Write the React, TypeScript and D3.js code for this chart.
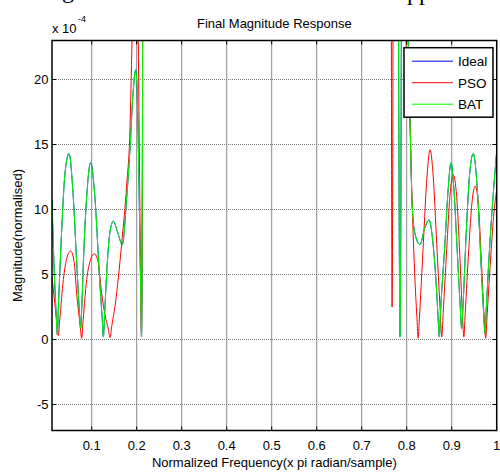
import React from 'react';
import * as d3 from 'd3';

// ---------- data (magnitude in units of 1e-4) ----------
const batFreq = [
  0.0118, 0.016, 0.021, 0.0236, 0.026, 0.0333, 0.0407, 0.0496, 0.059, 0.0667, 0.073, 0.0755,
  0.078, 0.0815, 0.0889, 0.0977, 0.107, 0.117, 0.1235, 0.126, 0.1285, 0.1333, 0.1407, 0.148,
  0.158, 0.168, 0.178, 0.185, 0.192, 0.198, 0.2025, 0.2065, 0.2095, 0.2108, 0.212, 0.2135,
  0.216, 0.22, 0.5, 0.77, 0.776, 0.7815, 0.7838, 0.785, 0.7865, 0.7885, 0.793, 0.8, 0.804,
  0.8073, 0.8118, 0.818, 0.8296, 0.8395, 0.8495, 0.859, 0.8667, 0.8705, 0.8725, 0.875, 0.885,
  0.892, 0.8985, 0.905, 0.912, 0.919, 0.922, 0.925, 0.932, 0.94, 0.948, 0.957, 0.965, 0.971,
  0.974, 0.977, 0.985, 0.993, 1.0,
];
const batMag = [
  10.7, 6, 2, 0.4, 2.5, 8.4, 12.8, 14.3, 11, 5.9, 2, 0.86,
  2.5, 5.9, 11, 13.6, 11, 5, 1.5, 0.2, 1.8, 5.1, 8.3, 9.1,
  8.2, 7.3, 11, 14.6, 19, 20.75, 17, 9, 2.5, 0.2, 6, 30,
  200, 10000, 10000, 10000, 200, 30, 6, 0.2, 6, 30, 150, 40, 22,
  17, 10.7, 8.2, 7.3, 8.5, 9.2, 7.2, 3.6, 1.2, 0.2, 2, 7.4,
  11.5, 13.6, 11.5, 7, 2.5, 0.86, 2.5, 8, 12.8, 14.3, 11.5, 6, 2,
  0.42, 2.5, 7.5, 11.5, 14.5,
];
// The ideal curve lies under the BAT curve
const idealFreq = batFreq;
const idealMag = batMag;

const psoFreq = [
  0.0118, 0.018, 0.023, 0.0258, 0.029, 0.037, 0.045, 0.0533, 0.061, 0.0667, 0.074, 0.0778,
  0.081, 0.0889, 0.097, 0.106, 0.114, 0.122, 0.13, 0.137, 0.141, 0.1445, 0.152, 0.1667, 0.178,
  0.185, 0.1896, 0.195, 0.2, 0.2035, 0.2065, 0.2092, 0.2105, 0.2118, 0.2135, 0.216, 0.22, 0.5,
  0.76, 0.7645, 0.7658, 0.7668, 0.7675, 0.7685, 0.7698, 0.773, 0.785, 0.7985, 0.8005, 0.807,
  0.8118, 0.815, 0.8185, 0.823, 0.8255, 0.828, 0.837, 0.845, 0.852, 0.859, 0.8667, 0.874,
  0.878, 0.881, 0.889, 0.896, 0.9036, 0.911, 0.918, 0.924, 0.927, 0.93, 0.938, 0.945, 0.952,
  0.959, 0.966, 0.972, 0.9756, 0.979, 0.987, 0.994, 1.0,
];
const psoMag = [
  4.8, 2.8, 1.2, 0.3, 1.5, 4.6, 6.3, 6.8, 6, 3.5, 1.2, 0.1,
  1.5, 4.6, 6.1, 6.6, 6, 3.6, 1.8, 0.8, 0.15, 1, 2.6, 7.4, 12,
  16.1, 23, 32, 32, 23, 12, 3, 0.3, 6, 35, 200, 10000, 10000,
  10000, 200, 30, 8, 2.5, 8, 30, 200, 400, 23, 21.8, 17.1,
  10.7, 7.5, 4.5, 1.5, 0.1, 1.5, 7.4, 12.5, 14.6, 12.5, 7.4, 2.5,
  0.2, 2, 7, 11, 12.65, 11, 6.5, 1.8, 0.2, 2, 7, 10.5, 11.8,
  10.5, 6, 1.8, 0.1, 2, 6.5, 9.8, 11.5,
];

const xTicks = [0.1, 0.2, 0.3, 0.4, 0.5, 0.6, 0.7, 0.8, 0.9, 1];
const xTickLabels = ['0.1', '0.2', '0.3', '0.4', '0.5', '0.6', '0.7', '0.8', '0.9', '1'];
const yTicks = [-5, 0, 5, 10, 15, 20];
const yTickLabels = ['-5', '0', '5', '10', '15', '20'];
const xDomain = [0.0118, 1];
const yDomain = [-7, 23];

const seriesNames = ['Ideal', 'PSO', 'BAT'];
const seriesColors = ['#0000ff', '#ff0000', '#00ff00'];

const titleText = 'Final Magnitude Response';
const xLabelText = 'Normalized Frequency(x pi radian/sample)';
const yLabelText = 'Magnitude(normalised)';

// ---------- layout ----------
const W = 500;
const H = 472;
const L = 52;
const R = 496.7;
const T = 40.5;
const B = 430.5;
const FONT = '"Liberation Sans", Arial, Helvetica, sans-serif';

export default function App() {
  const x = d3.scaleLinear().domain(xDomain).range([L, R]);
  const y = d3.scaleLinear().domain(yDomain).range([B, T]);

  const line = d3
    .line<[number, number]>()
    .x((d) => x(d[0]))
    .y((d) => y(d[1]))
    .curve(d3.curveMonotoneX);

  const mk = (f: number[], m: number[]) => f.map((v, i) => [v, m[i]] as [number, number]);
  const paths = [
    { d: line(mk(idealFreq, idealMag)) || '', c: seriesColors[0] },
    { d: line(mk(psoFreq, psoMag)) || '', c: seriesColors[1] },
    { d: line(mk(batFreq, batMag)) || '', c: seriesColors[2] },
  ];

  const lgX = 404;
  const lgY = 47.7;
  const lgW = 89;
  const lgH = 69.5;

  return (
    <svg
      width={W}
      height={H}
      style={{ position: 'absolute', left: 0, top: 0, background: '#fff' }}
      fontFamily={FONT}
    >
      <rect x={0} y={0} width={W} height={H} fill="#fff" />
      {/* fragments of the surrounding document text */}
      <text x={62} y={-2.5} fontFamily='"Liberation Serif", "Times New Roman", serif' fontSize={24} fill="#000">g</text>
      <text x={407} y={0} fontFamily='"Liberation Serif", "Times New Roman", serif' fontSize={24} fill="#000">pp</text>

      <defs>
        <clipPath id="plotClip">
          <rect x={L} y={T} width={R - L} height={B - T} />
        </clipPath>
      </defs>

      {/* grid */}
      <g stroke="#8a8a8a" strokeWidth={1}>
        {xTicks.filter((t) => t < 1).map((t) => (
          <line key={'gx' + t} x1={x(t)} x2={x(t)} y1={T} y2={B} />
        ))}
      </g>
      <g stroke="#7a7a7a" strokeWidth={1} strokeDasharray="1,1">
        {yTicks.map((t) => (
          <line key={'gy' + t} x1={L} x2={R} y1={y(t)} y2={y(t)} />
        ))}
      </g>

      {/* curves */}
      <g clipPath="url(#plotClip)" fill="none" strokeWidth={1}>
        {paths.map((p, i) => (
          <path key={i} d={p.d} stroke={p.c} />
        ))}
      </g>

      {/* ticks (inside) */}
      <g stroke="#000" strokeWidth={1}>
        {xTicks.map((t) => (
          <g key={'tx' + t}>
            <line x1={x(t)} x2={x(t)} y1={B} y2={B - 4} />
            <line x1={x(t)} x2={x(t)} y1={T} y2={T + 4} />
          </g>
        ))}
        {yTicks.map((t) => (
          <g key={'ty' + t}>
            <line x1={L} x2={L + 4} y1={y(t)} y2={y(t)} />
            <line x1={R} x2={R - 4} y1={y(t)} y2={y(t)} />
          </g>
        ))}
      </g>

      {/* axes box */}
      <rect x={L} y={T} width={R - L} height={B - T} fill="none" stroke="#000" strokeWidth={1.5} />

      {/* tick labels */}
      <g fontSize={13} fill="#000">
        {xTicks.map((t, i) => (
          <text key={'lx' + t} x={x(t)} y={B + 19} textAnchor="middle">
            {xTickLabels[i]}
          </text>
        ))}
        {yTicks.map((t, i) => (
          <text key={'ly' + t} x={L - 3.5} y={y(t) + 4.5} textAnchor="end">
            {yTickLabels[i]}
          </text>
        ))}
      </g>

      {/* exponent */}
      <text x={L} y={33} fontSize={13} fill="#000">x 10</text>
      <text x={L + 26} y={22} fontSize={9} fill="#000">-4</text>

      {/* title & axis labels */}
      <text x={(L + R) / 2 + 0} y={27.5} fontSize={13} textAnchor="middle" fill="#000">
        {titleText}
      </text>
      <text x={(L + R) / 2} y={467} fontSize={13} textAnchor="middle" fill="#000">
        {xLabelText}
      </text>
      <text
        transform={`translate(22,${(T + B) / 2}) rotate(-90)`}
        fontSize={13}
        textAnchor="middle"
        fill="#000"
      >
        {yLabelText}
      </text>

      {/* legend */}
      <g>
        <rect x={lgX} y={lgY} width={lgW} height={lgH} fill="#fff" stroke="#000" strokeWidth={1.5} />
        {seriesNames.map((n, i) => {
          const yy = lgY + 13.5 + i * 21.5;
          return (
            <g key={n}>
              <line x1={lgX + 8} x2={lgX + 49} y1={yy} y2={yy} stroke={seriesColors[i]} strokeWidth={1} />
              <text x={lgX + 54} y={yy + 5} fontSize={13.5} fill="#000">
                {n}
              </text>
            </g>
          );
        })}
      </g>
    </svg>
  );
}
